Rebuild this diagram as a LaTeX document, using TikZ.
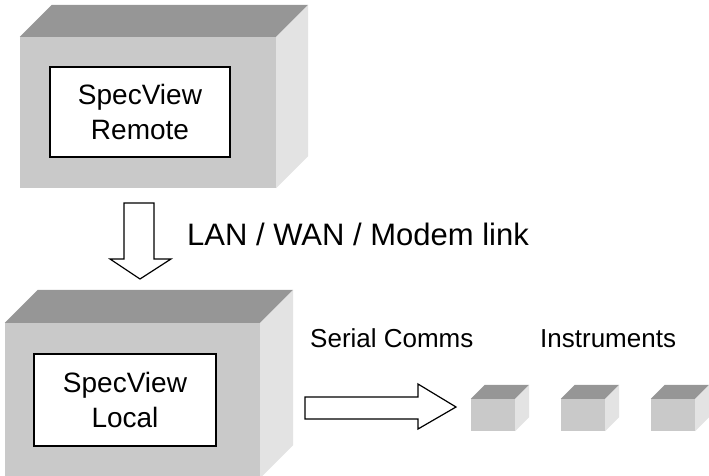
\documentclass[tikz,border=0pt]{standalone}
\usepackage{fontspec}
\setmainfont{Liberation Sans}
\usetikzlibrary{positioning}

\tikzset{
	frontface/.style={
			fill=black!21,
			inner sep=0pt
		},
	topface/.style={fill=black!41},
	sideface/.style={fill=black!11},
	namebox/.style={
			draw,
			line width=1.3pt,
			fill=white,
			align=center,
			inner sep=0pt,
			font=\fontsize{28}{35}\selectfont
		},
	blockarrow/.style={draw, line width=1.2pt, fill=white, line join=miter},
	caption/.style={inner sep=0pt, anchor=base west}
}

\begin{document}
\begin{tikzpicture}[x=1pt, y=-1pt]
		\useasboundingbox (0,0) rectangle (709,476);

		% computer boxes (front faces)
		\node[frontface, minimum width=256pt, minimum height=151pt] (remote) at (148,112.5) {};
		\node[frontface, minimum width=255pt, minimum height=155pt] (local) at (132.5,400.5) {};

		% instruments
		\node[frontface, minimum width=44pt, minimum height=32pt] (instA) at (493,415) {};
		\node[frontface, minimum width=44pt, minimum height=32pt] (instB) at (583,415) {};
		\node[frontface, minimum width=44pt, minimum height=32pt] (instC) at (673,415) {};

		% top and side faces
		\foreach \n/\d in {remote/32, local/33, instA/14, instB/14, instC/14}{
				\fill[topface] (\n.north west) -- ++(\d,-\d)
				-- ([shift={(\d,-\d)}]\n.north east) -- (\n.north east) -- cycle;
				\fill[sideface] (\n.north east) -- ++(\d,-\d)
				-- ([shift={(\d,-\d)}]\n.south east) -- (\n.south east) -- cycle;
			}

		\node[namebox, minimum width=180pt, minimum height=90pt] (remotename) at (140,112) {SpecView\\Remote};
		\node[namebox, minimum width=182pt, minimum height=92pt] (localname) at (125,400) {SpecView\\Local};

		% link arrow
		\draw[blockarrow] (124,203) -- (154,203) -- (154,259) -- (171,259)
		-- (140,279) -- (110,259) -- (124,259) -- cycle;
		\node[caption, font=\fontsize{31}{36}\selectfont] (link) at (187,245) {LAN / WAN / Modem link};

		% serial arrow
		\draw[blockarrow] (305,397) -- (418,397) -- (418,384) -- (456,407)
		-- (418,429) -- (418,419) -- (305,419) -- cycle;
		\node[caption, font=\fontsize{26}{30}\selectfont] (serial) at (310,347) {Serial Comms};
		\node[caption, font=\fontsize{26}{30}\selectfont] (instr) at (540,347) {Instruments};
	\end{tikzpicture}
\end{document}
